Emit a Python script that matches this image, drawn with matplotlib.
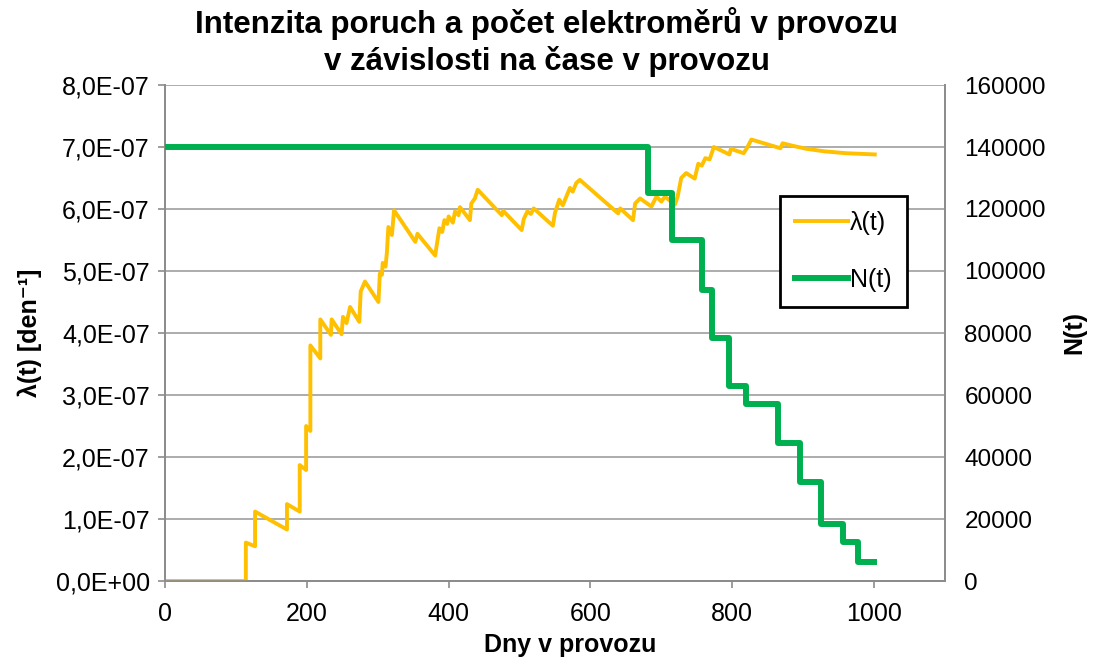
import matplotlib
matplotlib.use("Agg")
import matplotlib.pyplot as plt
from matplotlib.ticker import FuncFormatter

plt.rcParams['font.family'] = ['Liberation Sans', 'DejaVu Sans']

# lambda(t) - intenzita poruch (den, hodnota x1e-7)
lam_days = [0, 114, 114, 127, 127, 172, 172, 190, 190, 199, 199, 205, 205, 219, 219,
            234, 235, 249, 251, 256, 261, 274, 276, 282, 301, 303, 306, 307, 311, 313,
            315, 320, 323, 353, 356, 381, 383, 387, 391, 394, 398, 400, 406, 409, 414,
            416, 430, 432, 437, 441, 475, 477, 503, 506, 511, 516, 520, 547, 550, 556,
            561, 571, 575, 580, 585, 639, 642, 660, 663, 670, 686, 693, 700, 705, 719,
            723, 728, 735, 747, 752, 757, 762, 768, 774, 796, 798, 816, 820, 827, 868,
            871, 885, 905, 930, 960, 1001]
lam_vals = [0, 0, 0.62, 0.56, 1.12, 0.83, 1.24, 1.12, 1.87, 1.79, 2.50, 2.42, 3.80, 3.59, 4.22,
            3.97, 4.22, 3.98, 4.26, 4.16, 4.42, 4.18, 4.67, 4.83, 4.50, 4.96, 4.94, 5.13, 5.07, 5.31,
            5.71, 5.58, 5.98, 5.47, 5.60, 5.25, 5.40, 5.69, 5.63, 5.82, 5.76, 5.88, 5.78, 5.96, 5.90,
            6.03, 5.82, 6.09, 6.17, 6.31, 5.90, 5.97, 5.66, 5.84, 5.96, 5.92, 6.01, 5.73, 5.94, 6.15,
            6.06, 6.34, 6.28, 6.42, 6.47, 5.93, 6.01, 5.82, 6.09, 6.17, 6.04, 6.20, 6.12, 6.20, 6.07,
            6.20, 6.50, 6.58, 6.49, 6.73, 6.70, 6.82, 6.80, 7.00, 6.88, 6.97, 6.90, 6.97, 7.12, 6.98,
            7.06, 7.02, 6.97, 6.93, 6.90, 6.88]

# N(t) - pocet elektromeru v provozu (schody)
n_days = [0, 681, 715, 757, 772, 796, 819, 864, 895, 925, 956, 977, 1000]
n_vals = [140000, 125000, 110000, 94000, 78500, 63000, 57000, 44500, 32000, 18500, 12500, 6200, 6200]

LAM_C = "#FFC000"
N_C = "#00B050"
GRID = "#A6A6A6"
AX_C = "#8C8C8C"
FS = 18

fig = plt.figure(figsize=(10.93, 6.59), dpi=100)
ax = fig.add_axes([165/1093, 1-581/659, (945-165)/1093, (581-85)/659])
ax2 = ax.twinx()

l1, = ax.plot(lam_days, [v * 1e-7 for v in lam_vals], color=LAM_C, lw=2.8,
              solid_joinstyle="round", label="λ(t)", zorder=3)
l2, = ax2.step(n_days, n_vals, where="post", color=N_C, lw=4.3,
               solid_joinstyle="round", label="N(t)", zorder=3)

ax.set_xlim(0, 1100)
ax.set_ylim(0, 8e-7)
ax2.set_ylim(0, 160000)
ax.set_xticks(range(0, 1001, 200))
ax.set_yticks([i * 1e-7 for i in range(9)])
ax2.set_yticks(range(0, 160001, 20000))
ax.yaxis.set_major_formatter(FuncFormatter(lambda v, _: f"{v:.1E}".replace(".", ",")))

ax.grid(axis="y", color=GRID, lw=1.3)
ax.set_axisbelow(True)
for a in (ax, ax2):
    a.spines["top"].set_visible(False)
    for s in ("left", "right", "bottom"):
        a.spines[s].set_color(AX_C)
        a.spines[s].set_linewidth(1.3)
    a.tick_params(colors=AX_C, labelcolor="black", labelsize=FS, length=5, width=1.2)
ax2.tick_params(axis="y", length=0, pad=14, labelsize=17.5)
ax.tick_params(axis="x", pad=10)
ax.tick_params(axis="y", pad=6)

ax.set_xlabel("Dny v provozu", fontsize=FS, fontweight="bold", labelpad=4)
ax.xaxis.set_label_coords(0.52, -0.105)
ax.set_ylabel("λ(t) [den⁻¹]", fontsize=FS, fontweight="bold", labelpad=10)
ax2.set_ylabel("N(t)", fontsize=FS, fontweight="bold", labelpad=12)

fig.suptitle("Intenzita poruch a počet elektroměrů v provozu\nv závislosti na čase v provozu",
             fontsize=22.5, fontweight="bold", y=0.99, linespacing=1.25)

leg = ax2.legend(handles=[l1, l2], loc="upper left", bbox_to_anchor=(780/1093, 1-196/659),
                 bbox_transform=fig.transFigure, fontsize=FS, frameon=True, fancybox=False,
                 edgecolor="black", framealpha=1, handlelength=2.1, borderpad=0.6,
                 labelspacing=1.3, handletextpad=0.1, borderaxespad=0)
leg.get_frame().set_linewidth(2)

fig.savefig("out.png", dpi=100)
